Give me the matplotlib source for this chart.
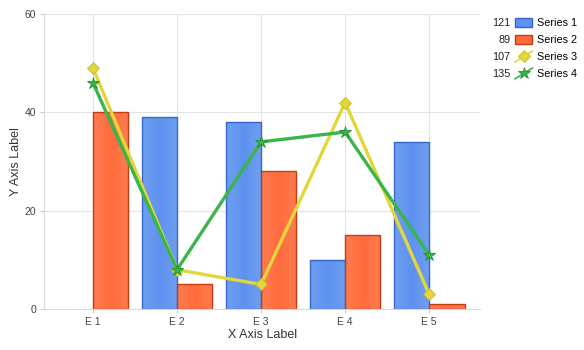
import matplotlib
matplotlib.use('Agg')
import matplotlib.pyplot as plt
from matplotlib.colors import LinearSegmentedColormap
from matplotlib.legend_handler import HandlerBase
from matplotlib.lines import Line2D
import numpy as np

plt.rcParams['font.family'] = ['Liberation Sans', 'DejaVu Sans']

categories = ['E 1', 'E 2', 'E 3', 'E 4', 'E 5']
series1 = [0, 39, 38, 10, 34]
series2 = [40, 5, 28, 15, 1]
series3 = [49, 8, 5, 42, 3]
series4 = [46, 8, 34, 36, 11]
series_names = ['Series 1', 'Series 2', 'Series 3', 'Series 4']
totals = [sum(series1), sum(series2), sum(series3), sum(series4)]

blue, blue_edge = '#5e92f0', '#3566c8'
orange, orange_edge = '#ff6b3d', '#c83a10'
yellow, yellow_edge = '#e3d63c', '#c8b820'
green, green_edge = '#3ab54a', '#1f8f2c'

fig = plt.figure(figsize=(5.84, 3.5), dpi=100)
ax = fig.add_axes([0.0753, 0.117, 0.747, 0.843])

x = np.arange(len(categories))
w = 0.42


def gradient_bars(xpos, vals, base, light, edge):
    bars = ax.bar(xpos, vals, w, color=base, edgecolor='none', zorder=2)
    cmap = LinearSegmentedColormap.from_list('g', [light, base, light])
    ramp = np.linspace(0, 1, 64).reshape(1, -1)
    for b, v in zip(bars, vals):
        if v == 0:
            b.set_visible(False)
            continue
        im = ax.imshow(ramp, cmap=cmap, aspect='auto', zorder=2.1,
                       extent=(b.get_x(), b.get_x() + b.get_width(), 0, v))
        im.set_clip_path(b)
    outl = ax.bar(xpos, vals, w, fill=False, edgecolor=edge, linewidth=1, zorder=2.2)
    for b, v in zip(outl, vals):
        if v == 0:
            b.set_visible(False)


class DiagHandler(HandlerBase):
    def create_artists(self, legend, orig, xdescent, ydescent, width, height, fontsize, trans):
        x0, x1 = -xdescent, -xdescent + width
        y0, y1 = -ydescent - 0.1 * height, -ydescent + 1.1 * height
        line = Line2D([x0, x1], [y0, y1], color=orig.get_color(), lw=1.2, transform=trans)
        mk = Line2D([(x0 + x1) / 2], [(y0 + y1) / 2], marker=orig.get_marker(),
                    ms=orig.get_markersize(), mfc=orig.get_markerfacecolor(),
                    mec=orig.get_markeredgecolor(), mew=orig.get_markeredgewidth(),
                    ls='none', transform=trans)
        return [line, mk]


gradient_bars(x - w / 2, series1, blue, '#6f9ff2', blue_edge)
gradient_bars(x + w / 2, series2, orange, '#ff7c50', orange_edge)

l3, = ax.plot(x, series3, color=yellow, lw=2.4, marker='D', ms=6.5,
              mfc=yellow, mec=yellow_edge, mew=0.6, zorder=3)
l4, = ax.plot(x, series4, color=green, lw=2.4, marker='*', ms=9,
              mfc=green, mec=green_edge, mew=0.6, zorder=4)

ax.set_xlim(-0.583, 4.607)
ax.set_ylim(0, 60)
ax.set_yticks([0, 20, 40, 60])
ax.set_xticks(x)
ax.set_xticklabels(categories)
ax.grid(True, color='#e3e3e3', lw=0.8, zorder=0)
ax.set_axisbelow(True)
for s in ['top', 'right']:
    ax.spines[s].set_visible(False)
for s in ['left', 'bottom']:
    ax.spines[s].set_color('#d9d9d9')
ax.tick_params(axis='both', colors='#cccccc', labelcolor='#444444', labelsize=7.5,
               length=3, width=0.8, pad=2.5)
ax.set_xlabel('X Axis Label', fontsize=9, color='#333333', labelpad=2)
ax.set_ylabel('Y Axis Label', fontsize=9, color='#333333', labelpad=2)

# legend with totals on the left of each entry
b1 = plt.Rectangle((0, 0), 1, 1, fc=blue, ec=blue_edge)
b2 = plt.Rectangle((0, 0), 1, 1, fc=orange, ec=orange_edge)
leg = fig.legend([b1, b2, l3, l4], series_names, loc='upper left',
                 bbox_to_anchor=(0.869, 0.97), frameon=False, fontsize=7.8,
                 handlelength=1.6, handleheight=0.9, handletextpad=0.45,
                 labelspacing=0.62, borderpad=0.2,
                 handler_map={Line2D: DiagHandler()})

fig.canvas.draw()
inv = fig.transFigure.inverted()
for t, txt in zip(totals, leg.get_texts()):
    bb = txt.get_window_extent()
    yy = inv.transform((0, (bb.y0 + bb.y1) / 2))[1]
    fig.text(0.874, yy, str(t), ha='right', va='center', fontsize=7.8, color='#222222')

fig.savefig('out.png', dpi=100)
